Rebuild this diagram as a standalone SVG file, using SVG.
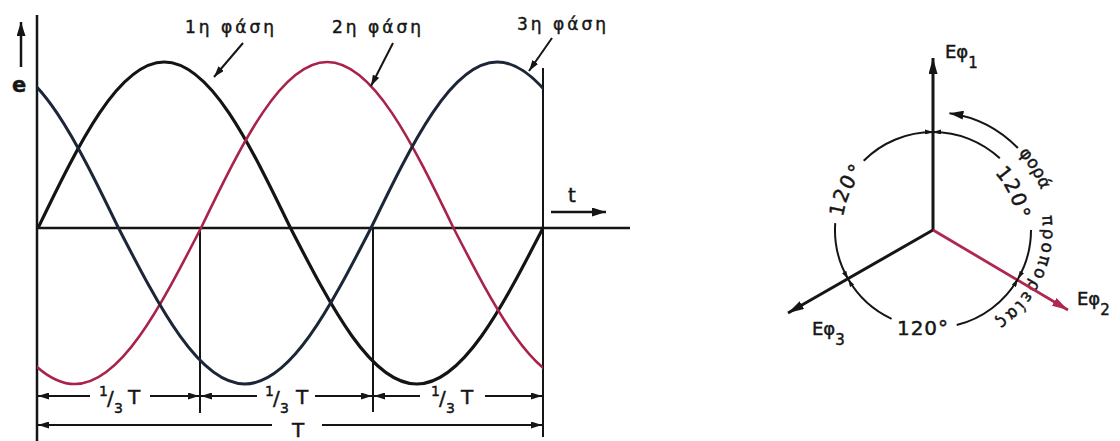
<svg xmlns="http://www.w3.org/2000/svg" xmlns:xlink="http://www.w3.org/1999/xlink" width="1120" height="441" viewBox="0 0 1120 441">
<style>
text{font-family:"DejaVu Sans","Liberation Sans",sans-serif;fill:#151515;stroke:#151515;stroke-width:0.45}
.lbl{font-size:17px;letter-spacing:3px}
.ln{stroke:#151515;stroke-width:2.5;fill:none}
.thin{stroke:#151515;stroke-width:2;fill:none}
.w1{stroke:#141414;stroke-width:3.2;fill:none}
.w2{stroke:#a82249;stroke-width:2.6;fill:none}
.w3{stroke:#1c2638;stroke-width:3;fill:none}
.vec{stroke:#151515;stroke-width:3;fill:none}
.vecr{stroke:#b0284f;stroke-width:2.8;fill:none}
.dim{font-size:20px}
.sm{font-size:14px}
.deg{font-size:20px;letter-spacing:1px}
</style>
<defs>
<marker id="ah" viewBox="0 0 10 10" refX="10" refY="5" markerWidth="11" markerHeight="7" markerUnits="userSpaceOnUse" orient="auto-start-reverse" preserveAspectRatio="none"><path d="M0,0 L10,5 L0,10 z" fill="#151515"/></marker>
<marker id="av" viewBox="0 0 10 10" refX="10" refY="5" markerWidth="16" markerHeight="9" markerUnits="userSpaceOnUse" orient="auto-start-reverse" preserveAspectRatio="none"><path d="M0,0 L10,5 L0,10 z" fill="#151515"/></marker>
<marker id="avr" viewBox="0 0 10 10" refX="10" refY="5" markerWidth="16" markerHeight="9" markerUnits="userSpaceOnUse" orient="auto-start-reverse" preserveAspectRatio="none"><path d="M0,0 L10,5 L0,10 z" fill="#b0284f"/></marker>
<marker id="aa" viewBox="0 0 10 10" refX="10" refY="5" markerWidth="8" markerHeight="5" markerUnits="userSpaceOnUse" orient="auto-start-reverse" preserveAspectRatio="none"><path d="M0,0 L10,5 L0,10 z" fill="#151515"/></marker>
<marker id="ar" viewBox="0 0 10 10" refX="10" refY="5" markerWidth="14" markerHeight="9" markerUnits="userSpaceOnUse" orient="auto-start-reverse" preserveAspectRatio="none"><path d="M0,0 L10,5 L0,10 z" fill="#151515"/></marker>
<path id="wave" d="M0,0 C41.17,-85.04 80.56,-166 126.25,-166 C171.94,-166 211.33,-85.04 252.5,0 C293.67,79.92 333.06,156 378.75,156 C424.44,156 463.83,79.92 505,0 C546.17,-85.04 585.56,-166 631.25,-166 C676.94,-166 716.33,-85.04 757.5,0 C798.67,79.92 838.06,156 883.75,156 C929.44,156 968.83,79.92 1010,0"/>
<clipPath id="plot"><rect x="37" y="0" width="506" height="441"/></clipPath>
<path id="txtR" d="M1010.78,152.22 A110,110 0 0,1 970.62,333.37"/>
<path id="txtF" d="M1014.32,148.68 A115,115 0 0,1 1046.25,249.97"/>
<path id="txtL" d="M843.38,245.80 A91,91 0 0,1 886.13,152.00"/>
<path id="txtUR" d="M975,157.25 A84,84 0 0,1 1015.72,244.59"/>
</defs>

<g id="axes">
<line class="ln" x1="37" y1="15" x2="37" y2="441"/>
<line class="ln" x1="37" y1="228" x2="630" y2="228"/>
<line class="thin" x1="200" y1="228" x2="200" y2="413"/>
<line class="thin" x1="373" y1="228" x2="373" y2="412"/>
<line class="thin" x1="543" y1="68" x2="543" y2="437"/>
<text x="19" y="92" text-anchor="middle" style="font-size:21px;font-weight:bold">e</text>
<text x="572" y="202" text-anchor="middle" style="font-size:20px">t</text>
</g>

<g id="waves" clip-path="url(#plot)">
<g id="phase1"><use xlink:href="#wave" href="#wave" class="w1" transform="translate(38,228)"/></g>
<g id="phase2"><use xlink:href="#wave" href="#wave" class="w2" transform="translate(-304,228)"/></g>
<g id="phase3"><use xlink:href="#wave" href="#wave" class="w3" transform="translate(-134,228)"/></g>
</g>

<g id="phase-labels">
<text class="lbl" x="185" y="33">1η φάση</text>
<text class="lbl" x="332" y="33">2η φάση</text>
<text class="lbl" x="517" y="30">3η φάση</text>
</g>

<g id="dimension-labels">
<text class="dim" y="404"><tspan class="sm" x="99" y="396">1</tspan><tspan x="107" y="405">/</tspan><tspan class="sm" x="114" y="413">3</tspan><tspan x="128" y="404">T</tspan></text>
<text class="dim" y="404"><tspan class="sm" x="265" y="396">1</tspan><tspan x="273" y="405">/</tspan><tspan class="sm" x="280" y="413">3</tspan><tspan x="296" y="404">T</tspan></text>
<text class="dim" y="404"><tspan class="sm" x="431" y="396">1</tspan><tspan x="439" y="405">/</tspan><tspan class="sm" x="446" y="413">3</tspan><tspan x="461" y="404">T</tspan></text>
<text class="dim" x="298" y="437" text-anchor="middle">T</text>
</g>

<g id="phasor-E1">
<text x="945" y="58" style="font-size:18px">Eφ<tspan style="font-size:15px" dy="10">1</tspan></text>
</g>
<g id="phasor-E2">
<text x="1077" y="305" style="font-size:18px">Eφ<tspan style="font-size:15px" dy="10">2</tspan></text>
</g>
<g id="phasor-E3">
<text x="812" y="335" style="font-size:18px">Eφ<tspan style="font-size:15px" dy="10">3</tspan></text>
</g>
<g id="angle-labels">
<text class="deg"><textPath xlink:href="#txtL" href="#txtL" startOffset="50%" text-anchor="middle">120°</textPath></text>
<text class="deg"><textPath xlink:href="#txtUR" href="#txtUR" startOffset="50%" text-anchor="middle">120°</textPath></text>
<text class="deg" x="923" y="335" text-anchor="middle">120°</text>
<text style="font-size:17px"><textPath xlink:href="#txtF" href="#txtF" startOffset="6">φορά</textPath></text>
<text style="font-size:17px;letter-spacing:2.5px"><textPath xlink:href="#txtR" href="#txtR" startOffset="72">προπορείας</textPath></text>
</g>

<g id="connectors">
<line class="ln" x1="21" y1="67" x2="21" y2="22" marker-end="url(#ar)"/>
<line class="ln" x1="551" y1="212" x2="606" y2="212" marker-end="url(#ar)"/>
<line class="thin" x1="243" y1="43" x2="214" y2="77" marker-end="url(#ah)"/>
<line class="thin" x1="393" y1="43" x2="371" y2="86" marker-end="url(#ah)"/>
<line class="thin" x1="552" y1="38" x2="529" y2="71" marker-end="url(#ah)"/>
<line class="thin" x1="90" y1="396" x2="38" y2="396" marker-end="url(#ah)"/>
<line class="thin" x1="150" y1="396" x2="199" y2="396" marker-end="url(#ah)"/>
<line class="thin" x1="257" y1="396" x2="201" y2="396" marker-end="url(#ah)"/>
<line class="thin" x1="315" y1="396" x2="372" y2="396" marker-end="url(#ah)"/>
<line class="thin" x1="420" y1="396" x2="374" y2="396" marker-end="url(#ah)"/>
<line class="thin" x1="485" y1="396" x2="542" y2="396" marker-end="url(#ah)"/>
<line class="thin" x1="272" y1="425" x2="38" y2="425" marker-end="url(#ah)"/>
<line class="thin" x1="322" y1="425" x2="542" y2="425" marker-end="url(#ah)"/>
<line class="vec" x1="933" y1="230" x2="933" y2="58" marker-end="url(#av)"/>
<line class="vec" x1="933" y1="230" x2="788" y2="313" marker-end="url(#av)"/>
<line class="vecr" x1="933" y1="230" x2="1068" y2="310" marker-end="url(#avr)"/>
<path class="thin" d="M933,132 A98,98 0 0,1 999.84,158.33" marker-start="url(#aa)"/>
<path class="thin" d="M1031,230 A98,98 0 0,1 1017.87,279" marker-end="url(#aa)"/>
<path class="thin" d="M1017.87,279 A98,98 0 0,1 956.71,325.09" marker-start="url(#aa)"/>
<path class="thin" d="M891.58,318.82 A98,98 0 0,1 848.13,279" marker-end="url(#aa)"/>
<path class="thin" d="M848.13,279 A98,98 0 0,1 835.24,223.16" marker-start="url(#aa)"/>
<path class="thin" d="M863.70,160.70 A98,98 0 0,1 933,132" marker-end="url(#aa)"/>
<path class="thin" d="M1017.88,148.03 A118,118 0 0,0 949.42,113.15" marker-end="url(#ar)"/>
</g>
</svg>
